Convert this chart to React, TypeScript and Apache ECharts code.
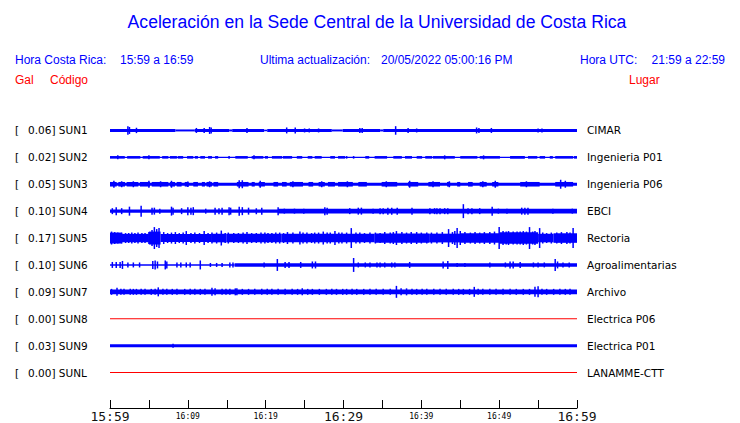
import React, { useEffect, useRef } from 'react';
import * as echarts from 'echarts';

// ---------- Data ----------
const STATIONS = ['SUN1', 'SUN2', 'SUN3', 'SUN4', 'SUN5', 'SUN6', 'SUN7', 'SUN8', 'SUN9', 'SUNL'];
const PEAKS = ['0.06', '0.02', '0.05', '0.10', '0.17', '0.10', '0.09', '0.00', '0.03', '0.00'];
const PLACES = ['CIMAR', 'Ingenieria P01', 'Ingenieria P06', 'EBCI', 'Rectoria', 'Agroalimentarias', 'Archivo', 'Electrica P06', 'Electrica P01', 'LANAMME-CTT'];
const TIME_LABELS = ['15:59', '16:09', '16:19', '16:29', '16:39', '16:49', '16:59'];
const MAJOR_TIMES = [0, 30, 60];

// amplitude units per trace row (half-height values)
const AMP_UNITS_PER_ROW = 27;

// band segments: [minuteStart, minuteEnd, halfAmplitude]
// spikes: [minute, halfAmplitude]
const SUN1_BAND = [[0, 8.4, 1.5], [8.4, 10.9, 1.0], [10.9, 15.3, 1.5], [15.3, 15.7, 1.0], [15.7, 19.8, 1.5], [19.8, 20.2, 0.8], [20.2, 28.5, 1.5], [28.5, 29.9, 1.0], [29.9, 34.7, 1.5], [34.7, 35.1, 1.0], [35.1, 60, 1.5]];
const SUN1_SPIKES = [[2.3, 4.3], [2.5, 3.5], [3.4, 2.7], [11.1, 2.5], [12.1, 2.5], [12.8, 3.5], [13.0, 3.0], [17.6, 2.5], [22.7, 3], [23.8, 3], [25.0, 2], [25.6, 2], [26.8, 2], [32.1, 2.5], [32.4, 2.5], [36.7, 4.3], [38.3, 2.5], [39.4, 2], [47.1, 3], [47.4, 2.5], [49.0, 2.5], [55.0, 2], [55.5, 2]];

const SUN2_BAND = [[0, 60, 0.6], [0, 1.9, 1.3], [2.2, 3.9, 1.3], [4.2, 6.4, 1.3], [6.7, 7.5, 1.3], [7.7, 8.6, 1.3], [8.7, 9.4, 1.3], [9.9, 10.7, 1.3], [10.9, 11.3, 1.3], [11.6, 12.2, 1.3], [12.6, 13.1, 1.3], [13.5, 13.9, 1.3], [15.2, 15.4, 1.3], [16.1, 17.7, 1.3], [18.2, 19.7, 1.3], [19.9, 20.3, 1.3], [20.8, 22.1, 1.3], [22.2, 23.4, 1.3], [24.0, 24.7, 1.3], [25.4, 26.0, 1.3], [26.3, 27.2, 1.3], [28.3, 28.9, 1.3], [29.3, 30.2, 1.3], [30.3, 30.5, 1.3], [31.2, 31.4, 1.3], [32.8, 33.3, 1.3], [34.0, 35.6, 1.3], [36.4, 37.5, 1.3], [37.9, 38.8, 1.3], [39.4, 40.1, 1.3], [40.5, 41.4, 1.3], [41.5, 44.3, 1.3], [45.0, 47.2, 1.3], [47.5, 50.1, 1.3], [51.4, 53.3, 1.3], [53.7, 54.9, 1.3], [55.2, 55.9, 1.3], [56.5, 56.9, 1.3], [57.2, 59.5, 1.3], [59.6, 60, 1.3]];
const SUN2_SPIKES = [[1.0, 2], [5.0, 2], [18.5, 2], [43.0, 2], [48.0, 2]];

const SUN3_BAND = [[0, 60, 1.5], [0, 0.86, 2.3], [1.07, 1.93, 2.3], [2.14, 3.64, 2.3], [3.85, 5.14, 2.3], [5.36, 7.5, 2.3], [7.7, 8.35, 2.3], [8.57, 9.2, 2.3], [9.6, 10.1, 2.3], [10.7, 11.3, 2.3], [11.8, 12.2, 2.3], [12.4, 13.1, 2.3], [13.3, 13.9, 2.3], [16.3, 17.8, 2.3], [18.2, 18.6, 2.3], [19.1, 19.9, 2.3], [21.0, 21.6, 2.3], [22.1, 22.7, 2.3], [23.1, 24.8, 2.3], [25.5, 26.1, 2.3], [26.8, 27.6, 2.3], [28.0, 28.9, 2.3], [29.3, 31.2, 2.3], [31.9, 33.0, 2.3], [34.9, 36.9, 2.3], [38.3, 39.6, 2.3], [40.9, 42.4, 2.3], [43.3, 43.7, 2.3], [44.6, 45.0, 2.3], [46.0, 46.6, 2.3], [47.5, 48.4, 2.3], [49.1, 49.9, 2.3], [52.7, 55.2, 2.3], [57.2, 59.5, 2.3]];
const SUN3_SPIKES = [[0.5, 3.5], [1.5, 3], [3.0, 3], [5.0, 3.5], [6.5, 3], [7.9, 3.5], [10.0, 2.8], [12.8, 3], [16.6, 4], [17.0, 4], [19.3, 3.5], [23.5, 3], [27.2, 3], [30.5, 3], [35.5, 3], [38.5, 3.5], [41.5, 3], [43.6, 3], [47.9, 3], [49.5, 3.5], [53.5, 3], [57.9, 4.5], [58.5, 3.5]];

const SUN4_BAND = [[0, 21.6, 1.7], [21.6, 60, 2.3]];
const SUN4_SPIKES = [[0.3, 3], [0.8, 4], [1.5, 3], [2.5, 4.5], [4.0, 5.5], [5.4, 3.5], [5.7, 3.5], [6.4, 2.5], [7.9, 4.5], [8.1, 3.5], [9.2, 3], [10.0, 4], [10.4, 3.5], [10.7, 4], [12.3, 2.5], [13.5, 3.5], [14.0, 3], [14.4, 3.5], [15.3, 4], [15.5, 3.5], [16.6, 4.5], [17.0, 4], [17.8, 3.5], [18.8, 3], [19.5, 3.5], [21.6, 4], [22.4, 2.5], [23.7, 2.5], [24.9, 2.5], [27.6, 4], [27.9, 3.5], [30.8, 3], [31.9, 3.5], [32.3, 3.5], [33.8, 2.5], [34.7, 3], [35.1, 3], [35.7, 3.5], [36.2, 3.5], [36.9, 3.5], [38.8, 3.5], [41.1, 3], [41.7, 3], [42.0, 3], [42.4, 3], [43.0, 3], [43.4, 3], [45.4, 7], [46.0, 3], [46.5, 3], [47.5, 3], [49.1, 4.5], [49.9, 2.5], [51.0, 2.5], [52.9, 3.5], [53.3, 3.5], [53.7, 3.5], [56.9, 2.5], [59.4, 2.5]];

const SUN5_BAND = [[0, 1.5, 5.5], [1.5, 5, 4.2], [5, 6.5, 6.5], [6.5, 13, 4], [13, 15, 4.3], [15, 22, 4.2], [22, 34, 4.3], [34, 41, 4.6], [41, 45, 4.4], [45, 50, 4.8], [50, 55, 5.8], [55, 57, 4.3], [57, 60, 4.8]];
const SUN5_SPIKES = [[0.2, 6.5], [0.6, 6], [1.0, 5.5], [1.5, 5.5], [2.0, 5], [2.4, 5], [2.8, 5.5], [3.2, 5], [3.6, 5.5], [4.1, 5], [4.5, 5], [5.0, 6], [5.4, 8], [5.7, 11], [6.0, 9], [6.3, 10], [6.9, 6], [7.4, 5], [7.9, 5.5], [8.4, 6], [8.9, 5], [9.4, 5.5], [9.8, 7], [10.4, 5], [10.9, 5.5], [11.5, 5], [12.1, 7], [12.6, 5], [13.1, 5.5], [13.7, 5.5], [14.3, 7.5], [14.8, 5], [15.2, 5.5], [15.9, 5], [16.5, 5], [17.1, 5.5], [17.6, 6], [18.2, 5], [18.8, 5], [19.4, 5.5], [19.9, 5.5], [20.3, 5], [20.8, 5], [21.3, 5.5], [21.8, 5.5], [22.3, 5], [22.8, 6], [23.5, 5.5], [24.4, 6.5], [24.8, 5.5], [25.3, 5.5], [25.9, 5], [26.3, 5.5], [26.8, 5.5], [27.4, 6.5], [27.9, 5.5], [28.3, 5.5], [28.9, 7], [29.4, 5.5], [29.8, 5.5], [30.4, 5.5], [31.0, 10], [31.6, 5.5], [32.1, 5.5], [32.7, 5], [33.4, 5.5], [34.1, 5.5], [34.7, 5], [35.3, 6], [36.0, 5.5], [36.4, 6], [36.8, 7], [37.5, 6], [38.1, 5.5], [38.7, 6], [39.4, 6], [40.0, 5.5], [40.7, 5.5], [41.3, 5.5], [42.0, 5.5], [42.7, 6], [43.5, 9], [44.0, 6], [44.3, 7], [44.6, 10], [45.0, 7], [45.6, 6], [46.3, 5.5], [46.9, 6], [47.5, 5.5], [48.1, 6], [48.8, 6], [49.4, 6.5], [50.0, 11], [50.5, 7], [50.9, 6.5], [51.2, 7], [51.8, 6.5], [52.3, 6.5], [52.7, 6.5], [53.1, 7], [53.5, 6.5], [53.9, 11], [54.3, 6.5], [54.6, 7], [55.2, 10], [55.6, 5.5], [56.1, 5], [56.7, 5.5], [57.4, 5.5], [58.0, 6], [58.7, 6], [59.1, 5.5], [59.5, 10]];

const SUN6_BAND = [[0, 16, 0.8], [16, 60, 1.7]];
const SUN6_SPIKES = [[0.3, 3], [0.8, 3], [1.3, 3], [1.6, 4], [2.3, 2.5], [3.0, 2.5], [3.8, 2.5], [5.5, 4], [5.8, 4.5], [6.1, 3.5], [7.1, 4.5], [7.3, 3.5], [8.6, 2.5], [9.1, 2.5], [9.8, 2.5], [10.3, 2.5], [11.6, 4.5], [12.9, 2], [13.7, 2], [14.4, 2], [15.4, 2.5], [15.8, 2.5], [19.8, 2.5], [21.5, 6], [22.5, 3], [23.0, 3], [24.5, 3], [26.0, 3.5], [26.4, 3.5], [31.3, 7], [31.9, 2.5], [32.8, 2.5], [33.4, 2.5], [34.3, 2.5], [34.7, 2.5], [35.3, 2.5], [36.2, 2.5], [36.6, 2.5], [38.5, 3], [42.8, 3.5], [43.4, 4], [44.6, 2], [45.6, 2], [48.8, 2.5], [50.8, 2.5], [51.4, 3.5], [51.8, 3.5], [52.7, 3], [54.4, 2.5], [55.0, 2.5], [55.8, 2.5], [57.2, 6], [57.5, 3.5], [58.2, 2.5], [59.0, 2.5]];

const SUN7_BAND = [[0, 60, 2.3]];
const SUN7_SPIKES = [[0.2, 3], [0.9, 4], [1.4, 3], [1.8, 3], [2.6, 3], [3.0, 3], [3.4, 3], [4.0, 3], [4.5, 3], [5.3, 3], [5.8, 3], [6.2, 4.5], [6.8, 3], [7.3, 3], [8.0, 3], [8.6, 3], [9.6, 3], [10.3, 3], [10.9, 3], [11.6, 3], [12.2, 3], [13.1, 4], [13.5, 3.5], [14.4, 3], [14.9, 3], [15.4, 3], [16.1, 3.5], [16.3, 3.5], [17.0, 3], [17.8, 3], [18.6, 3], [19.5, 3], [20.2, 3], [20.8, 3], [21.6, 3], [22.5, 3], [23.4, 3], [24.1, 3], [24.7, 3.5], [25.4, 3], [26.0, 3], [26.9, 3], [27.8, 3], [28.5, 3], [29.1, 3], [29.9, 3], [30.4, 3], [31.1, 3], [31.7, 3], [32.6, 3], [33.4, 3], [34.2, 3], [35.1, 3], [36.0, 3], [36.8, 6], [37.4, 3.5], [38.1, 3.5], [38.8, 3], [39.4, 3], [40.1, 3], [40.7, 3], [41.6, 3], [42.4, 3], [43.2, 3], [44.1, 3], [44.8, 3], [45.4, 3], [46.2, 3], [46.8, 5], [47.3, 3], [47.9, 3], [48.8, 3], [49.6, 3], [50.5, 3], [51.4, 3], [52.2, 3], [53.1, 3], [53.9, 3], [54.6, 5], [55.0, 5.5], [55.5, 3], [56.1, 3], [57.0, 3], [57.8, 3], [58.5, 3], [59.1, 3]];

const SUN8_BAND = [[0, 60, 0.5]];
const SUN8_SPIKES: number[][] = [];

const SUN9_BAND = [[0, 60, 1.5]];
const SUN9_SPIKES = [[8.1, 2]];

const SUNL_BAND = [[0, 60, 0.5]];
const SUNL_SPIKES: number[][] = [];

const BANDS = [SUN1_BAND, SUN2_BAND, SUN3_BAND, SUN4_BAND, SUN5_BAND, SUN6_BAND, SUN7_BAND, SUN8_BAND, SUN9_BAND, SUNL_BAND];
const SPIKES = [SUN1_SPIKES, SUN2_SPIKES, SUN3_SPIKES, SUN4_SPIKES, SUN5_SPIKES, SUN6_SPIKES, SUN7_SPIKES, SUN8_SPIKES, SUN9_SPIKES, SUNL_SPIKES];

// ---------- Styles ----------
const BLUE = '#0000ff';
const RED = '#ff0000';
const TRACE_COLORS = [BLUE, BLUE, BLUE, BLUE, BLUE, BLUE, BLUE, RED, BLUE, RED];

const bandData: number[][] = [];
BANDS.forEach((segs, row) => segs.forEach((s) => bandData.push([s[0], s[1], row, s[2]])));
const spikeData: number[][] = [];
SPIKES.forEach((sp, row) => sp.forEach((s) => spikeData.push([s[0], row, s[1]])));

export default function App() {
  const ref = useRef<HTMLDivElement>(null);
  useEffect(() => {
    if (!ref.current) return;
    const chart = echarts.init(ref.current, undefined, { renderer: 'svg' });
    const headerFont = 'Liberation Sans, Arial, sans-serif';
    const option: any = {
      animation: false,
      backgroundColor: '#ffffff',
      grid: { left: 110, top: 117, width: 467, height: 270 },
      xAxis: {
        type: 'value',
        min: 0,
        max: 60,
        interval: 5,
        offset: 22,
        axisLine: { show: true, onZero: false, lineStyle: { color: '#000', width: 1 } },
        axisTick: { show: true, inside: true, length: 8, lineStyle: { color: '#000', width: 1 } },
        splitLine: { show: false },
        axisLabel: {
          margin: 2,
          showMinLabel: true,
          showMaxLabel: true,
          formatter: (v: number) => {
            if (v % 10 !== 0) return '';
            const lbl = TIME_LABELS[v / 10];
            return MAJOR_TIMES.indexOf(v) >= 0 ? `{big|${lbl}}` : `{small|${lbl}}`;
          },
          rich: {
            big: { fontFamily: 'DejaVu Sans Mono', fontSize: 13, color: '#111' },
            small: { fontFamily: 'DejaVu Sans Mono', fontSize: 8, color: '#000', padding: [2, 0, 0, 0] },
          },
        },
      },
      yAxis: [
        {
          type: 'category',
          data: STATIONS,
          inverse: true,
          position: 'left',
          axisLine: { show: false },
          axisTick: { show: false },
          splitLine: { show: false },
          axisLabel: {
            margin: 95,
            align: 'left',
            formatter: (_v: string, i: number) => `{b|[}{v|${PEAKS[i]}] ${STATIONS[i]}}`,
            rich: {
              b: { width: 13, fontFamily: 'DejaVu Sans', fontSize: 10.5, color: '#000' },
              v: { fontFamily: 'DejaVu Sans', fontSize: 10.5, color: '#000' },
            },
          },
        },
        {
          type: 'category',
          data: STATIONS,
          inverse: true,
          position: 'right',
          axisLine: { show: false },
          axisTick: { show: false },
          splitLine: { show: false },
          axisLabel: {
            margin: 10,
            align: 'left',
            fontFamily: 'DejaVu Sans',
            fontSize: 10.5,
            color: '#000',
            formatter: (_v: string, i: number) => PLACES[i],
          },
        },
      ],
      series: [
        {
          type: 'custom',
          yAxisIndex: 0,
          encode: { x: [0, 1], y: 2 },
          data: bandData,
          silent: true,
          renderItem: (_p: any, api: any) => {
            const row = api.value(2);
            const c0 = api.coord([api.value(0), row]);
            const c1 = api.coord([api.value(1), row]);
            const bandH = api.size([0, 1])[1];
            const h = (api.value(3) / AMP_UNITS_PER_ROW) * bandH;
            return {
              type: 'rect',
              shape: { x: c0[0], y: c0[1] - h, width: Math.max(c1[0] - c0[0], 1), height: 2 * h },
              style: { fill: TRACE_COLORS[row] },
            };
          },
        },
        {
          type: 'custom',
          yAxisIndex: 0,
          encode: { x: 0, y: 1 },
          data: spikeData,
          silent: true,
          renderItem: (_p: any, api: any) => {
            const row = api.value(1);
            const c = api.coord([api.value(0), row]);
            const bandH = api.size([0, 1])[1];
            const h = (api.value(2) / AMP_UNITS_PER_ROW) * bandH;
            return {
              type: 'rect',
              shape: { x: c[0] - 0.75, y: c[1] - h, width: 1.5, height: 2 * h },
              style: { fill: TRACE_COLORS[row] },
            };
          },
        },
      ],
      graphic: [
        { type: 'text', x: 377, y: 22, style: { text: 'Aceleración en la Sede Central de la Universidad de Costa Rica', font: `17.6px ${headerFont}`, fill: BLUE, textAlign: 'center', textVerticalAlign: 'middle' } },
        { type: 'text', x: 15, y: 60, style: { text: 'Hora Costa Rica:', font: `12px ${headerFont}`, fill: BLUE, textVerticalAlign: 'middle' } },
        { type: 'text', x: 120, y: 60, style: { text: '15:59 a 16:59', font: `12px ${headerFont}`, fill: BLUE, textVerticalAlign: 'middle' } },
        { type: 'text', x: 260, y: 60, style: { text: 'Ultima actualización:', font: `12px ${headerFont}`, fill: BLUE, textVerticalAlign: 'middle' } },
        { type: 'text', x: 381, y: 60, style: { text: '20/05/2022 05:00:16 PM', font: `12px ${headerFont}`, fill: BLUE, textVerticalAlign: 'middle' } },
        { type: 'text', x: 580, y: 60, style: { text: 'Hora UTC:', font: `12px ${headerFont}`, fill: BLUE, textVerticalAlign: 'middle' } },
        { type: 'text', x: 725, y: 60, style: { text: '21:59 a 22:59', font: `12px ${headerFont}`, fill: BLUE, textAlign: 'right', textVerticalAlign: 'middle' } },
        { type: 'text', x: 15, y: 80, style: { text: 'Gal', font: `12px ${headerFont}`, fill: RED, textVerticalAlign: 'middle' } },
        { type: 'text', x: 50, y: 80, style: { text: 'Código', font: `12px ${headerFont}`, fill: RED, textVerticalAlign: 'middle' } },
        { type: 'text', x: 629, y: 80, style: { text: 'Lugar', font: `12px ${headerFont}`, fill: RED, textVerticalAlign: 'middle' } },
      ],
    };
    chart.setOption(option);
    return () => chart.dispose();
  }, []);
  return <div ref={ref} style={{ position: 'fixed', left: 0, top: 0, width: 740, height: 423, background: '#fff' }} />;
}
